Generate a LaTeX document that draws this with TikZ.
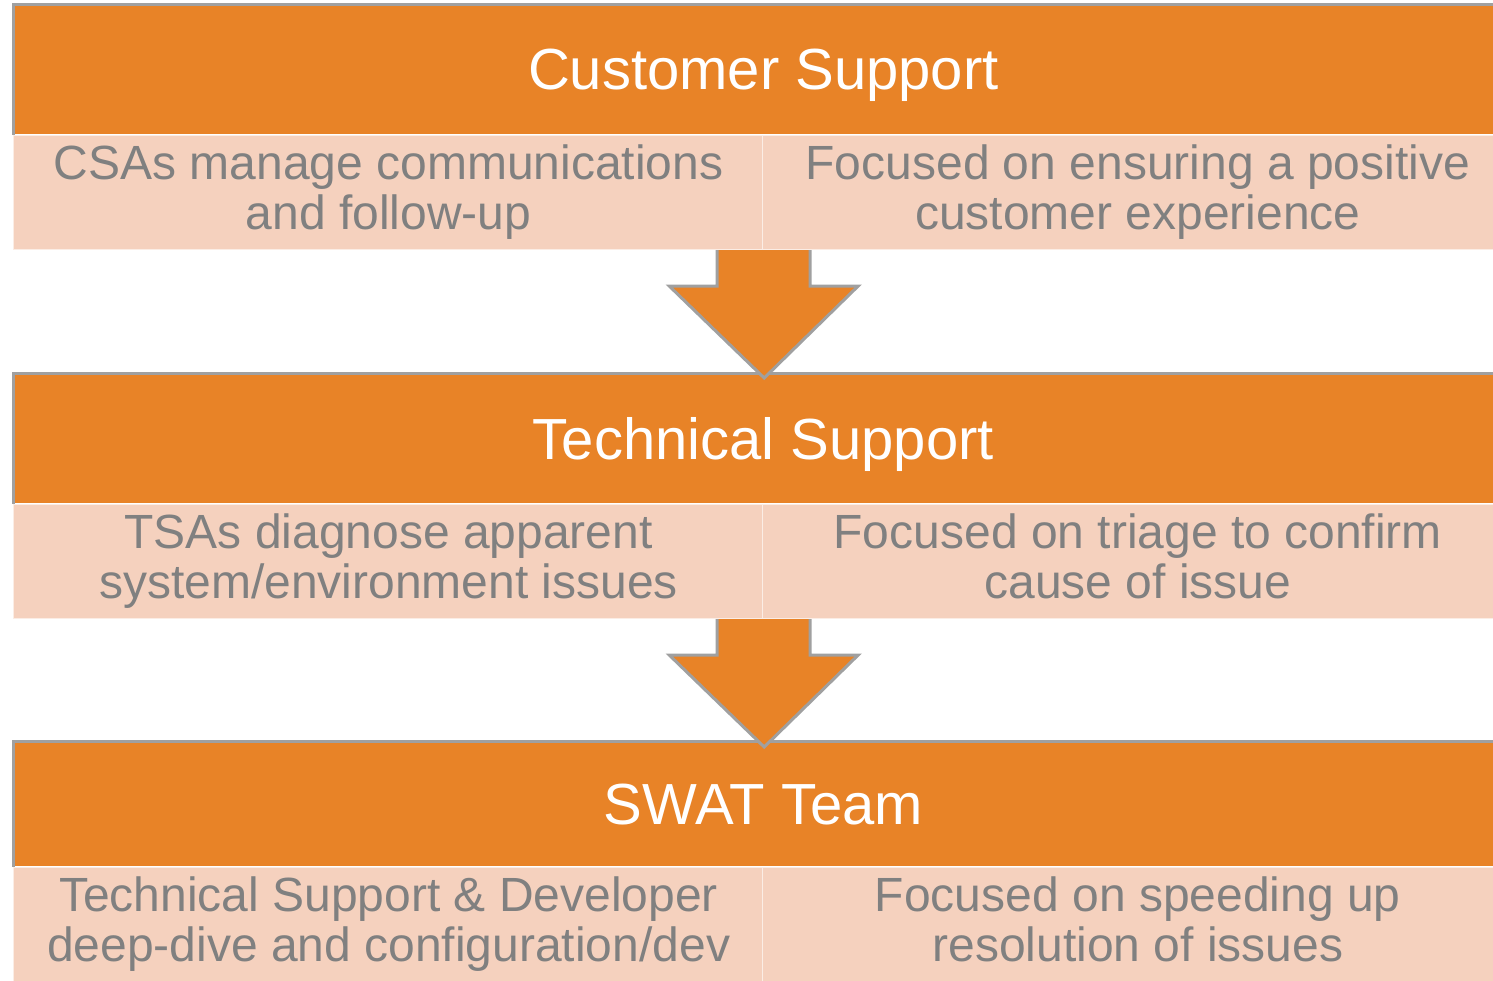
\documentclass[tikz,border=0pt]{standalone}
\usepackage{fontspec}
\setmainfont{Liberation Sans}
\usepackage{tikz}
\usetikzlibrary{positioning}
\usetikzlibrary{calc}

\definecolor{BandOrange}{RGB}{232,131,39}
\definecolor{BoxPeach}{RGB}{245,209,190}
\definecolor{EdgeGray}{RGB}{160,160,160}
\definecolor{TextGray}{RGB}{128,128,128}

% keep the depth of the last line the same in every box
\newcommand{\lastdepth}{\vphantom{gpy}}

\tikzset{
	titlebar/.style={rectangle, fill=BandOrange, anchor=north west, inner sep=0pt,
		minimum width=750pt, minimum height=65pt, text=white, text depth=0pt,
		font=\fontsize{29}{32}\selectfont},
	infobox/.style={rectangle, fill=BoxPeach, draw=BoxPeach!40!white, line width=0.6pt,
		inner sep=0pt, minimum width=375pt, minimum height=57pt, align=center,
		text=TextGray, font=\fontsize{24}{25}\selectfont},
	edgeline/.style={draw=EdgeGray, line width=1.5pt},
	blockarrow/.style={fill=BandOrange, draw=EdgeGray, line width=1.5pt, line join=miter},
}

\begin{document}
\begin{tikzpicture}[x=0.5pt, y=-0.5pt]
	
	% ------------------------------------------------
	% Ensure the dimensions of graphic are appropriate
	\useasboundingbox (0,0) rectangle (1493,980);
	
	% ------------------------------------------------
	% Customer support band
	\node[titlebar] (CSTitle) at (13,4) {Customer Support};
	\draw[edgeline] (CSTitle.south west) |- (CSTitle.north east);
	\node[infobox, below right=0pt and 0pt of CSTitle.south west] (CSLeft) {CSAs manage communications\\and follow-up\lastdepth};
	\node[infobox, right=0pt of CSLeft, xshift=-1pt] (CSRight) {Focused on ensuring a positive\\customer experience\lastdepth};
	
	% ------------------------------------------------
	% Technical support band
	\node[titlebar] (TSTitle) at (13,373) {Technical Support};
	\draw[edgeline] (TSTitle.south west) |- (TSTitle.north east);
	\node[infobox, below right=0pt and 0pt of TSTitle.south west] (TSLeft) {TSAs diagnose apparent\\system/environment issues\lastdepth};
	\node[infobox, right=0pt of TSLeft, xshift=-1pt] (TSRight) {Focused on triage to confirm\\cause of issue\lastdepth};
	
	% ------------------------------------------------
	% SWAT team band
	\node[titlebar, minimum height=62.5pt] (SWTitle) at (13,741) {SWAT Team};
	\draw[edgeline] (SWTitle.south west) |- (SWTitle.north east);
	\node[infobox, below right=0pt and 0pt of SWTitle.south west] (SWLeft) {Technical Support \& Developer\\deep-dive and configuration/dev\lastdepth};
	\node[infobox, right=0pt of SWLeft, xshift=-1pt] (SWRight) {Focused on speeding up\\resolution of issues\lastdepth};
	
	% ----------------
	% Relevant coordinates for the block arrows
	\path (CSLeft.south east) +(-47,0)  coordinate (ArrAL);
	\path (CSLeft.south east) +(46,0)   coordinate (ArrAR);
	\path (CSLeft.south east) +(-95,36) coordinate (ArrAHL);
	\path (CSLeft.south east) +(94,36)  coordinate (ArrAHR);
	\path (CSLeft.south east) +(0,128)  coordinate (ArrATip);
	
	\path (TSLeft.south east) +(-47,0)  coordinate (ArrBL);
	\path (TSLeft.south east) +(46,0)   coordinate (ArrBR);
	\path (TSLeft.south east) +(-95,36) coordinate (ArrBHL);
	\path (TSLeft.south east) +(94,36)  coordinate (ArrBHR);
	\path (TSLeft.south east) +(0,128)  coordinate (ArrBTip);
	
	%%%%%%%%%%%%%%%%%%%%%%%%%%%%%%%%%%%%%%%%%
	%Arrows
	\filldraw[blockarrow] (ArrAL) -- (ArrAL |- ArrAHL) -- (ArrAHL) -- (ArrATip)
		-- (ArrAHR) -- (ArrAR |- ArrAHR) -- (ArrAR);
	\filldraw[blockarrow] (ArrBL) -- (ArrBL |- ArrBHL) -- (ArrBHL) -- (ArrBTip)
		-- (ArrBHR) -- (ArrBR |- ArrBHR) -- (ArrBR);
	
\end{tikzpicture}
\end{document}
